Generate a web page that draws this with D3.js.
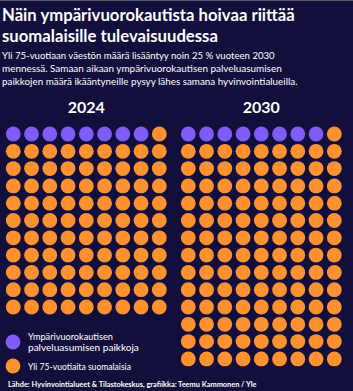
<!DOCTYPE html>
<html>
<head>
<meta charset="utf-8">
<script src="https://cdn.jsdelivr.net/npm/d3@7"></script>
<style>
  html, body { margin: 0; padding: 0; background: #130f3c; }
  svg { display: block; }
  text { font-family: Lato, "Open Sans", sans-serif; fill: #ffffff; }
</style>
</head>
<body>
<svg width="353" height="391"></svg>
<script>
// data
var years = ["2024", "2030"];
var places = [8, 8];          // ympärivuorokautisen palveluasumisen paikkoja
var elderly = [91, 118];      // yli 75-vuotiaita suomalaisia
var titleLines = ["Näin ympärivuorokautista hoivaa riittää", "suomalaisille tulevaisuudessa"];
var subLines = [
  "Yli 75-vuotiaan väestön määrä lisääntyy noin 25 % vuoteen 2030",
  "mennessä. Samaan aikaan ympärivuorokautisen palveluasumisen",
  "paikkojen määrä ikääntyneille pysyy lähes samana hyvinvointialueilla."
];
var legendLabels = [["Ympärivuorokautisen", "palveluasumisen paikkoja"], ["Yli 75-vuotiaita suomalaisia"]];
var source = "Lähde: Hyvinvointialueet & Tilastokeskus, grafiikka: Teemu Kammonen / Yle";

var colPurple = "#7d5cf7";
var colOrange = "#ff9230";
var cols = 9;

var svg = d3.select("svg");
svg.append("rect").attr("width", 353).attr("height", 391).attr("fill", "#130f3c");
svg.append("rect").attr("width", 353).attr("height", 1).attr("fill", "#5a5870");

// fit a text element to a given width by font size
function fit(sel, w) {
    sel.each(function () {
        var fs = parseFloat(d3.select(this).attr("font-size"));
        var len = this.getComputedTextLength();
        d3.select(this).attr("font-size", fs * w / len);
    });
}

var title = svg.append("g");
var tw = [293, 216];
titleLines.forEach(function (t, i) {
    title.append("text").attr("x", 2).attr("y", 21 + i * 21)
        .attr("font-size", 17).attr("font-weight", 700).text(t)
        .call(fit, tw[i]);
});

var sw = [273, 280, 296];
subLines.forEach(function (t, i) {
    svg.append("text").attr("x", 2).attr("y", 59 + i * 13)
        .attr("font-size", 10).text(t)
        .call(fit, sw[i]);
});

// panels
var panel = d3.scaleBand().domain(years).range([0, 350]);
var x = d3.scaleLinear().domain([0, cols - 1]).range([13.3, 159.3]);
var y = d3.scaleLinear().domain([0, 1]).range([134, 151.3]);
var r = 7.4;

years.forEach(function (yr, i) {
    var g = svg.append("g").attr("transform", "translate(" + panel(yr) + ",0)");
    var dots = d3.range(places[i]).map(function () { return colPurple; })
        .concat(d3.range(elderly[i]).map(function () { return colOrange; }));

    g.append("text")
        .attr("x", (x(0) + x(cols - 1)) / 2).attr("y", 113)
        .attr("text-anchor", "middle").attr("font-size", 16).attr("font-weight", 700)
        .attr("fill", "#f2f2f5")
        .text(yr);

    g.selectAll("circle")
        .data(dots)
        .enter().append("circle")
        .attr("cx", function (d, k) { return x(k % cols); })
        .attr("cy", function (d, k) { return y(Math.floor(k / cols)); })
        .attr("r", r)
        .attr("fill", function (d) { return d; });
});

// legend
var legend = svg.append("g");
var ly = [342, 366];
var lcol = [colPurple, colOrange];
var lw = [[85, 111], [103]];
legendLabels.forEach(function (lines, i) {
    legend.append("circle").attr("cx", 13).attr("cy", ly[i]).attr("r", 7.4).attr("fill", lcol[i]);
    lines.forEach(function (t, j) {
        var off = lines.length === 1 ? 3.5 : -2 + j * 11;
        legend.append("text").attr("x", 28).attr("y", ly[i] + off)
            .attr("font-size", 10).text(t)
            .call(fit, lw[i][j]);
    });
});

svg.append("text").attr("x", 8).attr("y", 387)
    .attr("font-size", 8).attr("font-weight", 700).attr("fill", "#e8e8ee")
    .text(source)
    .call(fit, 249);
</script>
</body>
</html>
